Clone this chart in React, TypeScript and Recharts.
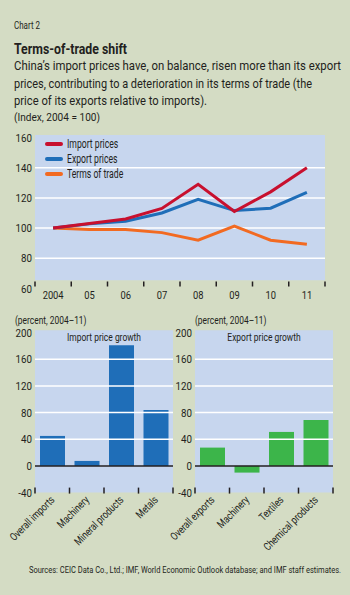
import React from 'react';
import { LineChart, Line, BarChart, Bar, XAxis, YAxis, ReferenceLine, ReferenceArea, Legend } from 'recharts';

const years = ['2004', '05', '06', '07', '08', '09', '10', '11'];
const importPrices = [100, 103, 106, 113, 129, 111, 124, 140];
const exportPrices = [100, 102.8, 104.6, 110, 119, 111.6, 113.2, 123.7];
const termsOfTrade = [100, 99, 99, 97, 92, 101.3, 92, 89.3];
const lineTicks = [60, 80, 100, 120, 140, 160];
const lineGrid = [80, 100, 120, 140];

const importCats = ['Overall imports', 'Machinery', 'Mineral products', 'Metals'];
const importGrowth = [45, 7.5, 181, 84];
const exportCats = ['Overall exports', 'Machinery', 'Textiles', 'Chemical products'];
const exportGrowth = [27.5, -10, 51, 69];
const barTicks = [-40, 0, 40, 80, 120, 160, 200];
const barGrid = [40, 80, 120, 160];

const FONT = 'Roboto, sans-serif';
const PAGE_BG = '#d4dcc4';
const PLOT_BG = '#c7d6ee';
const TEXT = '#231f20';
const RED = '#c8102e';
const BLUE = '#1f6eb8';
const ORANGE = '#f26a21';
const GREEN = '#3cb54a';

const lineSeries = [
  { key: 'imp', name: 'Import prices', color: RED },
  { key: 'exp', name: 'Export prices', color: BLUE },
  { key: 'tot', name: 'Terms of trade', color: ORANGE },
];

const lineData = years.map((year, i) => ({
  year,
  imp: importPrices[i],
  exp: exportPrices[i],
  tot: termsOfTrade[i],
}));
const importData = importCats.map((name, i) => ({ name, v: importGrowth[i] }));
const exportData = exportCats.map((name, i) => ({ name, v: exportGrowth[i] }));

// band widths follow from the chart sizes and margins below
const LINE_HALF_BAND = (350 - 35 - 25) / years.length / 2;
const BAR_HALF_BAND = (180 - 35 - 7) / 4 / 2;

// Roboto squeezed horizontally to look like the condensed face of the original
const CText = ({ x, y, size, sx = 0.8, anchor = 'start', rotate, weight, width, children }: any) => (
  <text
    transform={`translate(${x} ${y})${rotate ? ` rotate(${rotate})` : ''} scale(${sx} 1)`}
    textAnchor={anchor}
    fontSize={size}
    fontWeight={weight}
    fill={TEXT}
    fontFamily={FONT}
    textLength={width ? width / sx : undefined}
    lengthAdjust={width ? 'spacingAndGlyphs' : undefined}
  >
    {children}
  </text>
);

const NumTick = (props: any) => (
  <CText x={props.x} y={props.y + 4} size={11.5} sx={0.85} anchor="end">
    {props.payload.value}
  </CText>
);

const YearTick = (props: any) => {
  const { x, y, payload } = props;
  const last = payload.index === years.length - 1;
  return (
    <g>
      <line x1={x - LINE_HALF_BAND} x2={x - LINE_HALF_BAND} y1={y - 7} y2={y - 2} stroke={TEXT} strokeWidth={1.5} />
      {last && <line x1={x + LINE_HALF_BAND} x2={x + LINE_HALF_BAND} y1={y - 7} y2={y - 2} stroke={TEXT} strokeWidth={1.5} />}
      <CText x={x} y={y + 10} size={11} sx={0.85} anchor="middle">
        {payload.value}
      </CText>
    </g>
  );
};

const makeCatTick = (count: number) => (props: any) => {
  const { x, y, payload } = props;
  const last = payload.index === count - 1;
  return (
    <g>
      <line x1={x - BAR_HALF_BAND} x2={x - BAR_HALF_BAND} y1={y - 5} y2={y + 1} stroke={TEXT} strokeWidth={1.5} />
      {last && <line x1={x + BAR_HALF_BAND} x2={x + BAR_HALF_BAND} y1={y - 5} y2={y + 1} stroke={TEXT} strokeWidth={1.5} />}
      <CText x={x + 3} y={y + 8} size={11} sx={0.78} anchor="end" rotate={-45}>
        {payload.value}
      </CText>
    </g>
  );
};

const LineLegend = () => (
  <div style={{ fontFamily: FONT }}>
    {lineSeries.map((s) => (
      <div key={s.key} style={{ display: 'flex', alignItems: 'center', height: 15 }}>
        <span style={{ display: 'inline-block', width: 18, height: 4, background: s.color, borderRadius: 2, marginRight: 4 }} />
        <span
          style={{
            display: 'inline-block',
            transform: 'scaleX(0.72)',
            transformOrigin: 'left center',
            whiteSpace: 'nowrap',
            fontSize: 12,
            color: TEXT,
          }}
        >
          {s.name}
        </span>
      </div>
    ))}
  </div>
);

const GrowthChart = ({ data, color, left, title, tick }: any) => (
  <div style={{ position: 'absolute', left, top: 300, width: 180, height: 260 }}>
    <BarChart width={180} height={260} data={data} margin={{ top: 32.6, right: 7, bottom: 0, left: 0 }} barSize={25}>
      <ReferenceArea y1={-40} y2={203.5} fill={PLOT_BG} fillOpacity={1} stroke="none" ifOverflow="visible" />
      {barGrid.map((v) => (
        <ReferenceLine key={v} y={v} stroke="#ffffff" strokeWidth={1.5} />
      ))}
      <XAxis dataKey="name" axisLine={false} tickLine={false} tickSize={0} tickMargin={0} height={67.4} interval={0} tick={tick} />
      <YAxis
        domain={[-40, 200]}
        ticks={barTicks}
        interval={0}
        width={35}
        axisLine={false}
        tickLine={false}
        tickSize={0}
        tickMargin={3}
        tick={<NumTick />}
      />
      <Bar dataKey="v" fill={color} isAnimationActive={false} />
      <ReferenceLine y={0} stroke={TEXT} strokeWidth={1.5} />
    </BarChart>
    <svg width={180} height={45} style={{ position: 'absolute', left: 0, top: 0 }}>
      <CText x={104} y={41} size={11} sx={0.77} anchor="middle">
        {title}
      </CText>
      <CText x={left === 0 ? 15 : 35} y={24} size={10.5} sx={0.8}>
        (percent, 2004–11)
      </CText>
    </svg>
  </div>
);

export default function App() {
  return (
    <div style={{ position: 'absolute', left: 0, top: 0, width: 350, height: 595, background: PAGE_BG, fontFamily: FONT, color: TEXT, overflow: 'hidden' }}>
      <svg width={350} height={130} style={{ position: 'absolute', left: 0, top: 0 }}>
        <CText x={14} y={28.5} size={10} sx={0.85} width={26}>Chart 2</CText>
        <CText x={14} y={53.5} size={15} sx={0.85} weight="bold" width={113}>
          Terms-of-trade shift
        </CText>
        <CText x={14} y={69.8} size={13} sx={0.87} width={327}>
          China’s import prices have, on balance, risen more than its export
        </CText>
        <CText x={14} y={87.6} size={13} sx={0.87} width={298}>
          prices, contributing to a deterioration in its terms of trade (the
        </CText>
        <CText x={14} y={105.4} size={13} sx={0.87} width={193}>
          price of its exports relative to imports).
        </CText>
        <CText x={14} y={120.5} size={10} sx={0.85} width={86}>
          (Index, 2004 = 100)
        </CText>
      </svg>

      <div style={{ position: 'absolute', left: 0, top: 0 }}>
        <LineChart width={350} height={310} data={lineData} margin={{ top: 137.5, right: 25, bottom: 0, left: 0 }}>
          <ReferenceArea y1={65.5} y2={161.7} fill={PLOT_BG} fillOpacity={1} stroke="none" ifOverflow="visible" />
          {lineGrid.map((v) => (
            <ReferenceLine key={v} y={v} stroke="#ffffff" strokeWidth={1.5} />
          ))}
          <XAxis dataKey="year" scale="band" axisLine={false} tickLine={false} tickSize={0} tickMargin={0} height={21.5} interval={0} tick={<YearTick />} />
          <YAxis
            domain={[60, 160]}
            ticks={lineTicks}
            interval={0}
            width={35}
            axisLine={false}
            tickLine={false}
            tickSize={0}
            tickMargin={3}
            tick={<NumTick />}
          />
          <Legend
            layout="vertical"
            align="center"
            verticalAlign="middle"
            wrapperStyle={{ left: 45, top: 136.5, width: 'auto' }}
            content={<LineLegend />}
          />
          <Line dataKey="tot" stroke={ORANGE} strokeWidth={3} dot={false} isAnimationActive={false} />
          <Line dataKey="exp" stroke={BLUE} strokeWidth={3} dot={false} isAnimationActive={false} />
          <Line dataKey="imp" stroke={RED} strokeWidth={3} dot={false} isAnimationActive={false} />
        </LineChart>
      </div>

      <GrowthChart data={importData} color={BLUE} left={0} title="Import price growth" tick={makeCatTick(importCats.length)} />
      <GrowthChart data={exportData} color={GREEN} left={160} title="Export price growth" tick={makeCatTick(exportCats.length)} />

      <svg width={350} height={30} style={{ position: 'absolute', left: 0, top: 555 }}>
        <CText x={29} y={17.5} size={9.5} sx={0.75} width={312}>
          Sources: CEIC Data Co., Ltd.; IMF, World Economic Outlook database; and IMF staff estimates.
        </CText>
      </svg>
    </div>
  );
}
